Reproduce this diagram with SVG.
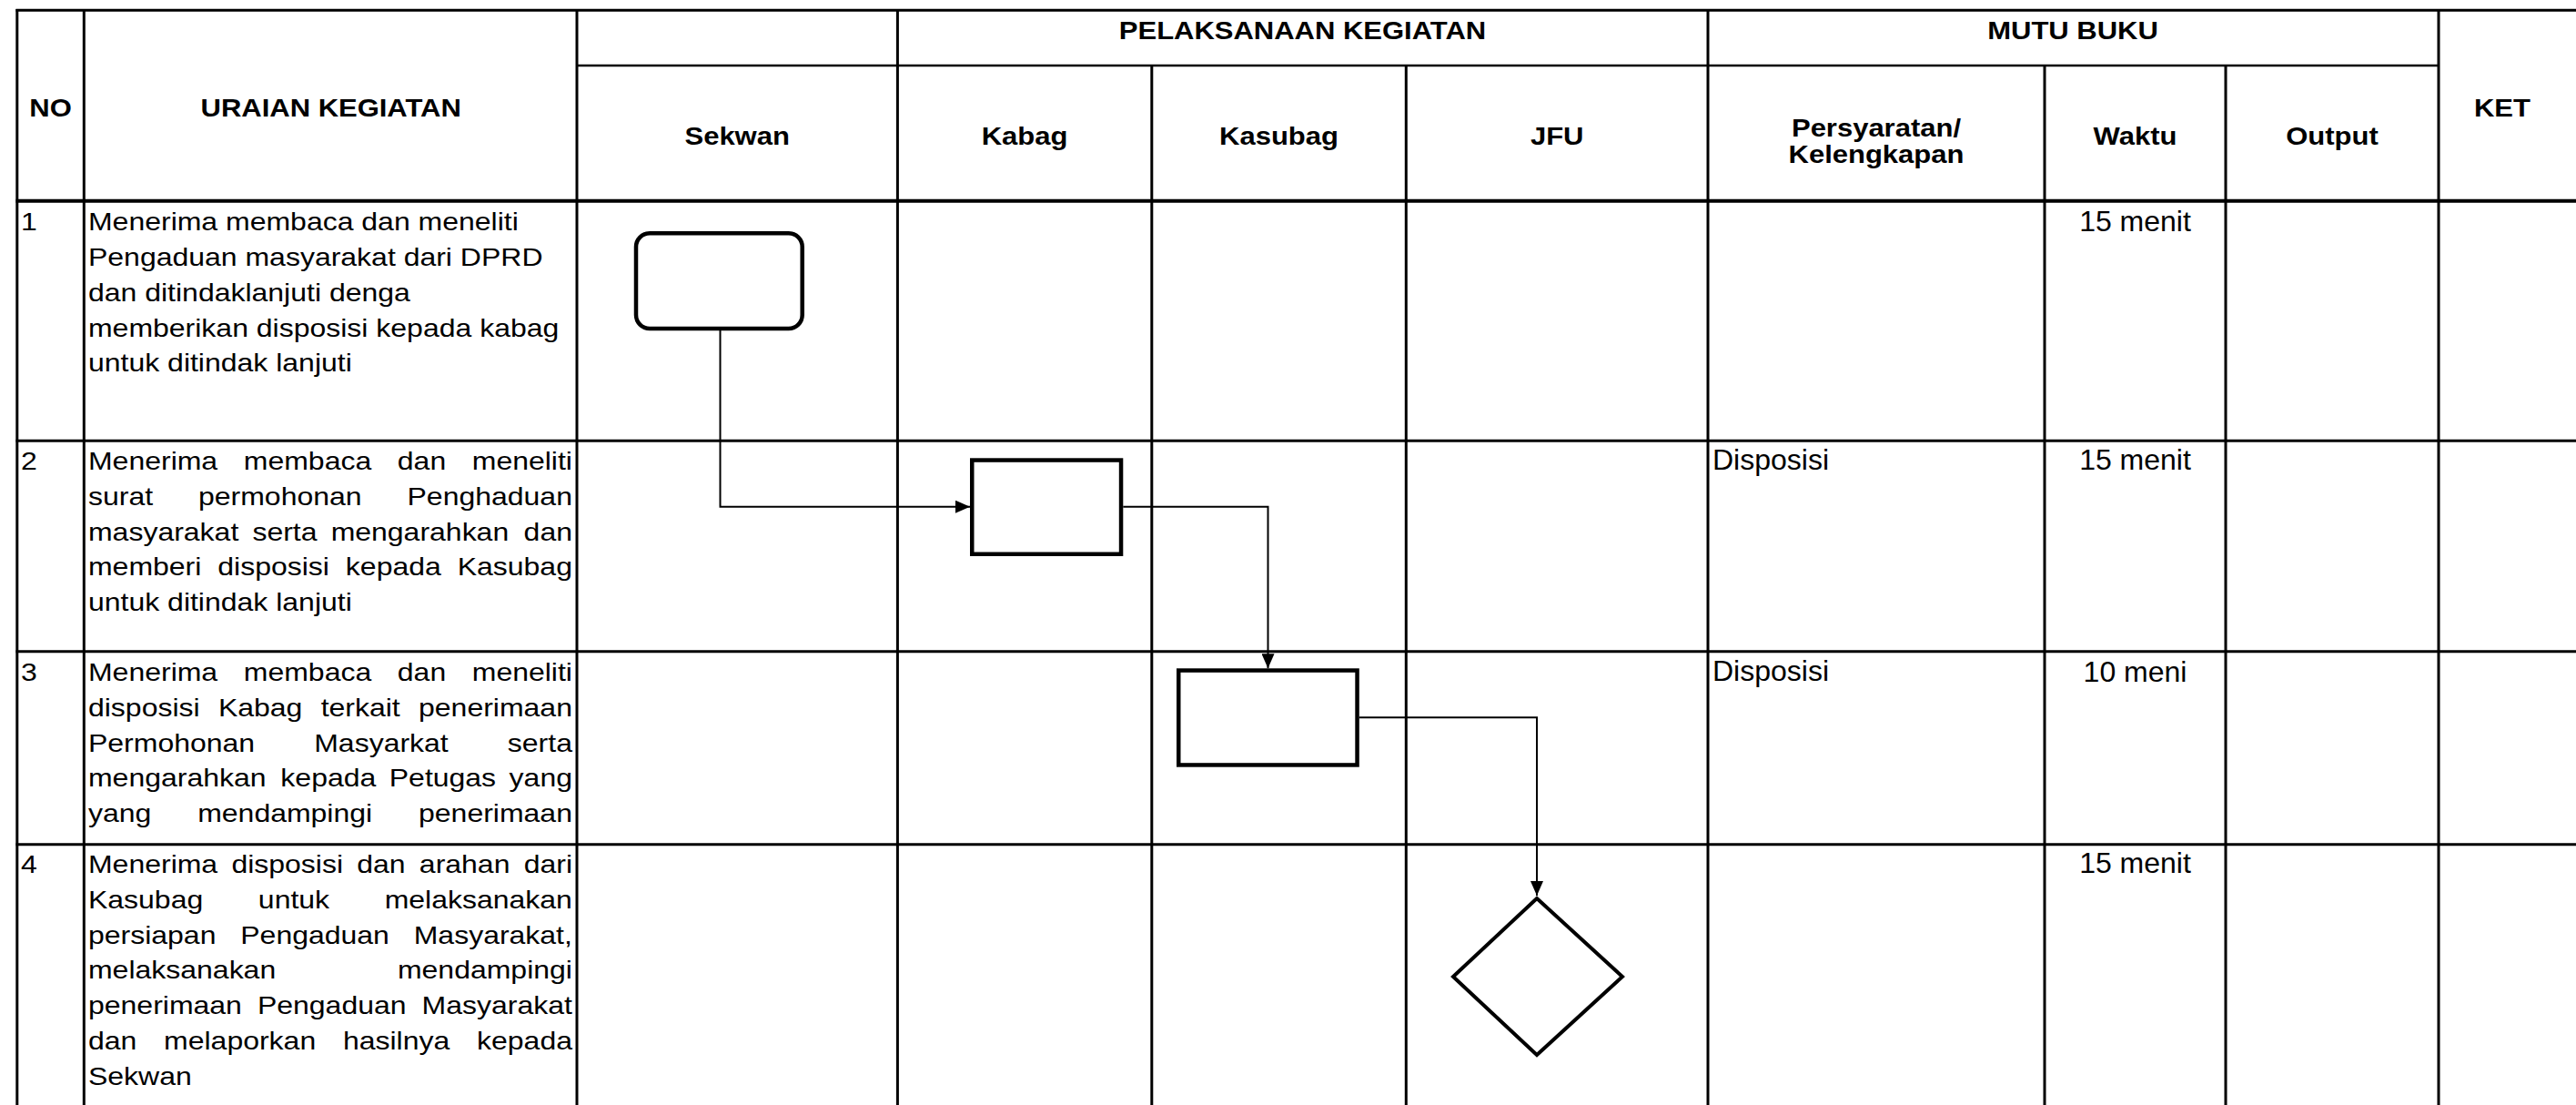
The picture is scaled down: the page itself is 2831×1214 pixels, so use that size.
<svg xmlns="http://www.w3.org/2000/svg" width="2831" height="1214" viewBox="0 0 2831 1214">
<style>
.bg{fill:#fff}
.grid line{stroke:#000;stroke-width:3;fill:none}
.txt{font-family:"Liberation Sans",Arial,sans-serif;font-size:32px;fill:#000}
.hd{font-family:"Liberation Sans",Arial,sans-serif;font-size:31px;font-weight:bold;fill:#000;text-anchor:middle}
.mid{text-anchor:middle}
.shape{fill:#fff;stroke:#000;stroke-width:4.5}
.conn{fill:none;stroke:#000;stroke-width:2}
</style>
<defs>
<marker id="arrow" markerUnits="userSpaceOnUse" markerWidth="16" markerHeight="14" refX="16" refY="7" orient="auto">
<path d="M0,0 L16,7 L0,14 Z" fill="#000"/>
</marker>
</defs>
<rect class="bg" x="0" y="0" width="2831" height="1214"/>
<g id="table" class="grid">
<line x1="17.5" y1="11.3" x2="2831" y2="11.3"/>
<line x1="634" y1="72" x2="2680" y2="72" style="stroke-width:2.5"/>
<line x1="17.5" y1="220.7" x2="2831" y2="220.7" style="stroke-width:4"/>
<line x1="17.5" y1="484.3" x2="2831" y2="484.3"/>
<line x1="17.5" y1="715.8" x2="2831" y2="715.8"/>
<line x1="17.5" y1="927.7" x2="2831" y2="927.7"/>
<line x1="18.8" y1="10" x2="18.8" y2="1214"/>
<line x1="92.3" y1="10" x2="92.3" y2="1214"/>
<line x1="634" y1="10" x2="634" y2="1214"/>
<line x1="986.4" y1="10" x2="986.4" y2="1214"/>
<line x1="1877" y1="10" x2="1877" y2="1214"/>
<line x1="2680" y1="10" x2="2680" y2="1214"/>
<line x1="1265.8" y1="72" x2="1265.8" y2="1214"/>
<line x1="1545.3" y1="72" x2="1545.3" y2="1214"/>
<line x1="2247" y1="72" x2="2247" y2="1214"/>
<line x1="2446" y1="72" x2="2446" y2="1214"/>
</g>
<g id="headers" transform="scale(1,0.875)">
<text class="hd" x="55.6" y="145.94">NO</text>
<text class="hd" x="363.7" y="145.94">URAIAN KEGIATAN</text>
<text class="hd" x="1431.5" y="49.14">PELAKSANAAN KEGIATAN</text>
<text class="hd" x="2278" y="49.14">MUTU BUKU</text>
<text class="hd" x="2750" y="145.94">KET</text>
<text class="hd" x="810.2" y="181.71">Sekwan</text>
<text class="hd" x="1126.1" y="181.71">Kabag</text>
<text class="hd" x="1405.5" y="181.71">Kasubag</text>
<text class="hd" x="1711.2" y="181.71">JFU</text>
<text class="hd" x="2062" y="172">Persyaratan/</text>
<text class="hd" x="2062" y="204.57">Kelengkapan</text>
<text class="hd" x="2346.5" y="181.71">Waktu</text>
<text class="hd" x="2563" y="181.71">Output</text>
</g>
<g id="uraian" class="txt" transform="scale(1,0.875)">
<text x="23" y="289.49">1</text>
<text x="97" y="289.49">Menerima membaca dan meneliti</text>
<text x="97" y="333.83">Pengaduan masyarakat dari DPRD</text>
<text x="97" y="378.17">dan ditindaklanjuti denga</text>
<text x="97" y="422.51">memberikan disposisi kepada kabag</text>
<text x="97" y="466.86">untuk ditindak lanjuti</text>

<text x="23" y="589.71">2</text>
<text y="589.71"><tspan x="97">Menerima</tspan> <tspan x="267.8">membaca</tspan> <tspan x="436.83">dan</tspan> <tspan x="518.76">meneliti</tspan></text>
<text y="634.06"><tspan x="97">surat</tspan> <tspan x="218.01">permohonan</tspan> <tspan x="447.53">Penghaduan</tspan></text>
<text y="678.4"><tspan x="97">masyarakat</tspan> <tspan x="277.44">serta</tspan> <tspan x="363.63">mengarahkan</tspan> <tspan x="575.62">dan</tspan></text>
<text y="722.74"><tspan x="97">memberi</tspan> <tspan x="239.32">disposisi</tspan> <tspan x="379.87">kepada</tspan> <tspan x="502.7">Kasubag</tspan></text>
<text x="97" y="767.09">untuk ditindak lanjuti</text>

<text x="23" y="854.86">3</text>
<text y="854.86"><tspan x="97">Menerima</tspan> <tspan x="267.8">membaca</tspan> <tspan x="436.83">dan</tspan> <tspan x="518.76">meneliti</tspan></text>
<text y="899.2"><tspan x="97">disposisi</tspan> <tspan x="239.92">Kabag</tspan> <tspan x="352.67">terkait</tspan> <tspan x="460.04">penerimaan</tspan></text>
<text y="943.54"><tspan x="97">Permohonan</tspan> <tspan x="345.24">Masyarkat</tspan> <tspan x="557.86">serta</tspan></text>
<text y="987.89"><tspan x="97">mengarahkan</tspan> <tspan x="308.37">kepada</tspan> <tspan x="427.77">Petugas</tspan> <tspan x="559.63">yang</tspan></text>
<text y="1032.23"><tspan x="97">yang</tspan> <tspan x="217.18">mendampingi</tspan> <tspan x="460.04">penerimaan</tspan></text>

<text x="23" y="1096">4</text>
<text y="1096"><tspan x="97">Menerima</tspan> <tspan x="254.42">disposisi</tspan> <tspan x="392.3">dan</tspan> <tspan x="460.86">arahan</tspan> <tspan x="575.66">dari</tspan></text>
<text y="1140.34"><tspan x="97">Kasubag</tspan> <tspan x="283.86">untuk</tspan> <tspan x="422.7">melaksanakan</tspan></text>
<text y="1184.69"><tspan x="97">persiapan</tspan> <tspan x="264.28">Pengaduan</tspan> <tspan x="454.73">Masyarakat,</tspan></text>
<text y="1229.03"><tspan x="97">melaksanakan</tspan> <tspan x="436.94">mendampingi</tspan></text>
<text y="1273.37"><tspan x="97">penerimaan</tspan> <tspan x="282.95">Pengaduan</tspan> <tspan x="463.62">Masyarakat</tspan></text>
<text y="1317.71"><tspan x="97">dan</tspan> <tspan x="180.08">melaporkan</tspan> <tspan x="376.96">hasilnya</tspan> <tspan x="524.04">kepada</tspan></text>
<text x="97" y="1362.06">Sekwan</text>
</g>
<g id="mutu" class="txt">
<text x="1882" y="516">Disposisi</text>
<text x="1882" y="748">Disposisi</text>
<text class="mid" x="2346.5" y="253.5">15 menit</text>
<text class="mid" x="2346.5" y="516">15 menit</text>
<text class="mid" x="2346.5" y="748.5">10 meni</text>
<text class="mid" x="2346.5" y="959">15 menit</text>
</g>
<g id="connectors">
<polyline class="conn" points="791.5,363 791.5,556.7 1066,556.7" marker-end="url(#arrow)"/>
<polyline class="conn" points="1234.3,556.7 1393.5,556.7 1393.5,734.3" marker-end="url(#arrow)"/>
<polyline class="conn" points="1493.8,788.3 1689,788.3 1689,984" marker-end="url(#arrow)"/>
</g>
<g id="node-sekwan-start">
<rect class="shape" x="699" y="256.3" width="182.7" height="104.7" rx="15" ry="15"/>
</g>
<g id="node-kabag">
<rect class="shape" x="1068.25" y="505.55" width="163.8" height="103.2"/>
</g>
<g id="node-kasubag">
<rect class="shape" x="1295.25" y="736.55" width="196.3" height="103.9"/>
</g>
<g id="node-jfu">
<polygon class="shape" style="stroke-width:4" points="1689,987 1783,1073 1689,1159 1597,1073"/>
</g>
</svg>
